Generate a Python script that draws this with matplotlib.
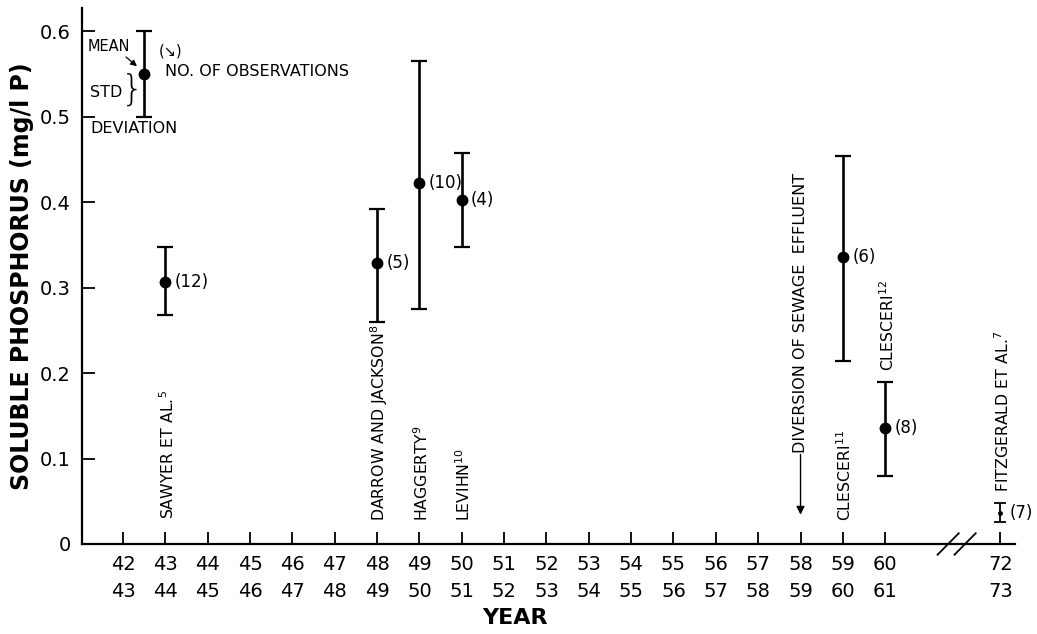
import numpy as np
import matplotlib.pyplot as plt
from matplotlib.transforms import blended_transform_factory

# mean and std range of soluble phosphorus, by starting year of the sampling season
study_year = [43, 48, 49, 50, 59, 60, 72]
mean_p = [0.307, 0.329, 0.422, 0.402, 0.336, 0.136, 0.036]
upper_p = [0.347, 0.392, 0.565, 0.458, 0.454, 0.190, 0.048]
lower_p = [0.268, 0.260, 0.275, 0.347, 0.214, 0.080, 0.026]
n_obs = [12, 5, 10, 4, 6, 8, 7]

# sources written up the chart: text, year, bottom of text
sources = [r'SAWYER ET AL.$^{5}$', r'DARROW AND JACKSON$^{8}$', r'HAGGERTY$^{9}$',
           r'LEVIHN$^{10}$', r'CLESCERI$^{11}$', r'CLESCERI$^{12}$', r'FITZGERALD ET AL.$^{7}$']
source_year = [43, 48, 49, 50, 59, 60, 72]
source_base = [0.029, 0.027, 0.027, 0.027, 0.027, 0.202, 0.061]

# x axis: two rows of years, axis broken between 60 and 72
years_top = list(range(42, 61)) + [72]
years_bot = list(range(43, 62)) + [73]
break_gap = 2.72   # axis units from 60 to 72

diversion_year = 58

# legend example
key_mean, key_lo, key_hi = 0.55, 0.5, 0.6


def year_x(y):
    y = np.asarray(y, dtype=float)
    return np.where(y <= 60, y - 42, 18 + break_gap)


fig = plt.figure(figsize=(10.37, 6.34), dpi=100)
ax = fig.add_axes([0.079, 0.142, 0.9, 0.845])

x = year_x(study_year)
m = np.array(mean_p)
yerr = [m - np.array(lower_p), np.array(upper_p) - m]
for i in range(len(x)):
    small = study_year[i] == 72
    ax.errorbar(x[i], m[i], yerr=[[yerr[0][i]], [yerr[1][i]]], fmt='o', color='black',
                ms=2.5 if small else 7.5, elinewidth=1.3 if small else 1.9,
                capsize=4 if small else 6, capthick=1.3 if small else 1.6)
    ax.text(x[i] + 0.22, m[i], '(%d)' % n_obs[i], fontsize=12, va='center', ha='left')

for txt, yr, base in zip(sources, source_year, source_base):
    ax.text(float(year_x(yr)) + 0.05, base, txt, rotation=90, ha='center', va='bottom',
            fontsize=11.3)

# diversion of sewage effluent
dx = float(year_x(diversion_year))
ax.text(dx, 0.107, 'DIVERSION OF SEWAGE  EFFLUENT', rotation=90, ha='center',
        va='bottom', fontsize=11.5)
ax.annotate('', xy=(dx, 0.031), xytext=(dx, 0.108),
            arrowprops=dict(arrowstyle='-|>', color='black', lw=1, mutation_scale=12))

# key in top left corner
kx = 0.5
ax.errorbar(kx, key_mean, yerr=[[key_mean - key_lo], [key_hi - key_mean]], fmt='o',
            color='black', ms=7.5, elinewidth=1.9, capsize=6, capthick=1.6)
ax.text(-0.83, 0.582, 'MEAN', fontsize=10.5, va='center')
ax.annotate('', xy=(0.38, 0.557), xytext=(0.02, 0.572),
            arrowprops=dict(arrowstyle='-|>', color='black', lw=0.9, mutation_scale=9))
ax.text(0.85, 0.577, '(\u2198)', fontsize=10.5, va='center')
ax.text(1.0, 0.553, 'NO. OF OBSERVATIONS', fontsize=11.5, va='center')
ax.text(-0.78, 0.528, 'STD', fontsize=11.5, va='center')
ax.text(-0.06, 0.532, '}', fontsize=26, va='center', ha='left', fontweight='light')
ax.text(-0.77, 0.486, 'DEVIATION', fontsize=11.5, va='center')

ax.set_xlim(-0.97, 21.07)
ax.set_ylim(0, 0.627)
ax.set_yticks([0, 0.1, 0.2, 0.3, 0.4, 0.5, 0.6])
ax.set_yticklabels(['0', '0.1', '0.2', '0.3', '0.4', '0.5', '0.6'])
ax.set_xticks(year_x(years_top))
ax.set_xticklabels(['%d\n%d' % (a, b) for a, b in zip(years_top, years_bot)],
                   linespacing=1.55)
ax.tick_params(axis='both', direction='in', length=9, width=1.3, labelsize=14, pad=8)
ax.tick_params(axis='x', pad=8)

for s in ['top', 'right']:
    ax.spines[s].set_visible(False)
for s in ['left', 'bottom']:
    ax.spines[s].set_linewidth(1.6)

# break marks on the x axis
trans = blended_transform_factory(ax.transData, ax.transAxes)
bx = 18 + break_gap * 0.62
for off in (-0.2, 0.2):
    ax.plot([bx + off - 0.25, bx + off + 0.25], [-0.02, 0.02], color='black', lw=1.3,
            transform=trans, clip_on=False)

ax.set_ylabel('SOLUBLE PHOSPHORUS (mg/l P)', fontsize=17, fontweight='bold', labelpad=4)
ax.set_xlabel('YEAR', fontsize=16, fontweight='bold', x=(515 - 82) / (1015 - 82), labelpad=5)

fig.savefig('out.png', dpi=100)
